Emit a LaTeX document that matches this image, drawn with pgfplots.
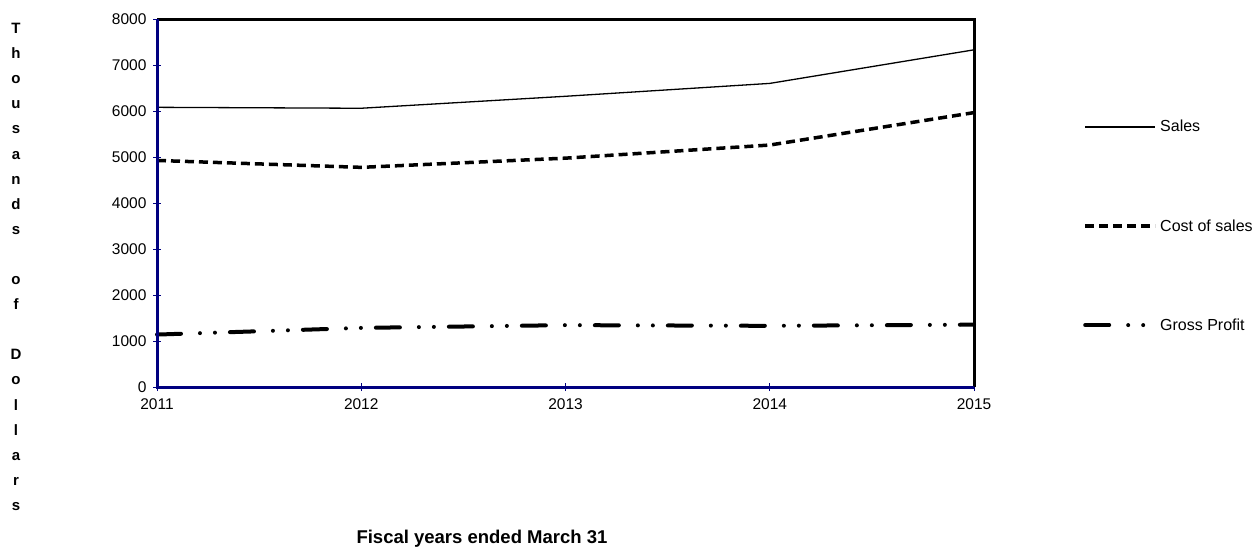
\documentclass[border=0pt]{standalone}
\usepackage{pgfplots}
\pgfplotsset{compat=1.18}
\usepackage{fontspec}
\setmainfont{Liberation Sans}
\definecolor{axisnavy}{HTML}{000080}

\begin{document}
\begin{tikzpicture}[x=1pt,y=1pt]
\useasboundingbox (0,0) rectangle (1254,547);
\begin{axis}[
  at={(157pt,160pt)}, anchor=south west,
  scale only axis, width=817pt, height=368pt,
  xmin=2011, xmax=2015, ymin=0, ymax=8000,
  xtick={2011,2012,2013,2014,2015},
  ytick={0,1000,2000,3000,4000,5000,6000,7000,8000},
  xtick pos=bottom, ytick pos=left,
  /pgf/number format/1000 sep={},
  /pgf/number format/assume math mode=true,
  tick label style={font=\fontsize{15.5}{17}\selectfont},
  yticklabel style={xshift=-3pt},
  xticklabel style={yshift=-4pt},
  tick align=center, major tick length=8pt,
  tick style={axisnavy, line width=0.8pt},
  axis line style={draw=none},
  clip=false,
  legend style={at={(1.1334,0.4375)}, anchor=west, draw=none, fill=none,
    font=\fontsize{16}{18}\selectfont, row sep=80pt, inner sep=0pt,
    nodes={inner sep=3pt}},
  legend cell align=left,
  legend image code/.code={\draw[#1] (0pt,0pt) -- (70pt,0pt);},
]
% Sales
\addplot[black, line width=1.3pt] coordinates {
  (2011,6080) (2012,6060) (2013,6320) (2014,6600) (2015,7330)};
\addlegendentry{Sales}
% Cost of sales
\addplot[black, line width=3.5pt, dash pattern=on 9pt off 5pt] coordinates {
  (2011,4925) (2012,4775) (2013,4975) (2014,5260) (2015,5965)};
\addlegendentry{Cost of sales}
% Gross profit
\addplot[black, line width=4pt, line cap=round,
  dash pattern=on 24pt off 19pt on 0pt off 15pt on 0pt off 15pt] coordinates {
  (2011,1140) (2012,1285) (2013,1345) (2014,1330) (2015,1355)};
\addlegendentry{Gross Profit}
% frame: black top and right, navy left and bottom
\draw[black, line width=3pt] (rel axis cs:0,1) -- (rel axis cs:1,1) -- (rel axis cs:1,0);
\draw[axisnavy, line width=3pt] (rel axis cs:0,1) -- (rel axis cs:0,0) -- (rel axis cs:1,0);
\end{axis}
\node[font=\fontsize{18.5}{20}\selectfont\bfseries, anchor=base] at (482,4) {Fiscal years ended March 31};
\node[font=\fontsize{15}{25.1}\selectfont\bfseries, align=center, anchor=north, inner sep=0pt]
  at (16,524) {T\\h\\o\\u\\s\\a\\n\\d\\s\\~\\o\\f\\~\\D\\o\\l\\l\\a\\r\\s};
\end{tikzpicture}
\end{document}
